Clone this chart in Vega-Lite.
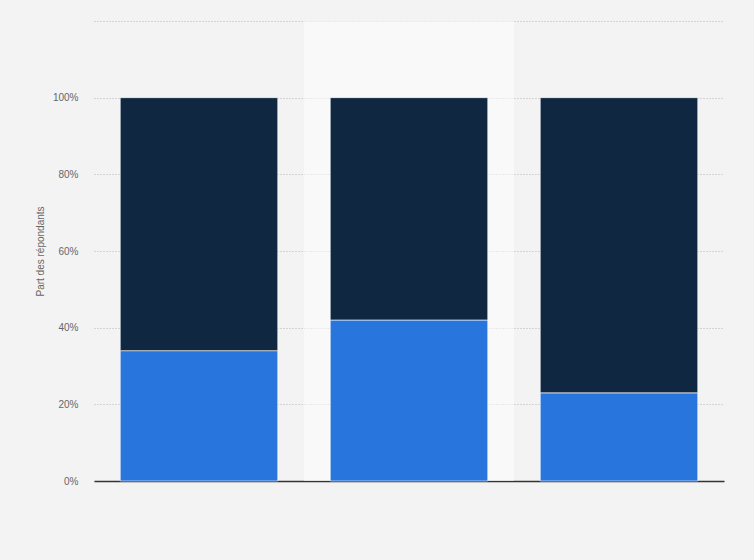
{
  "$schema": "https://vega.github.io/schema/vega-lite/v6.json",
  "width": 630,
  "height": 460,
  "autosize": "none",
  "padding": {"left": 94, "top": 21, "right": 30, "bottom": 79},
  "background": "#f3f3f3",
  "config": {"view": {"stroke": null}, "font": "Liberation Sans"},
  "data": {
    "values": [
      {"groupe": "Groupe 1", "reponse": "Oui", "part": 34},
      {"groupe": "Groupe 1", "reponse": "Non", "part": 66},
      {"groupe": "Groupe 2", "reponse": "Oui", "part": 42},
      {"groupe": "Groupe 2", "reponse": "Non", "part": 58},
      {"groupe": "Groupe 3", "reponse": "Oui", "part": 23},
      {"groupe": "Groupe 3", "reponse": "Non", "part": 77}
    ]
  },
  "encoding": {
    "x": {
      "field": "groupe",
      "type": "nominal",
      "sort": ["Groupe 1", "Groupe 2", "Groupe 3"],
      "scale": {"paddingInner": 0.25, "paddingOuter": 0.125},
      "axis": {"labels": false, "ticks": false, "title": null, "domainColor": "#333333", "domainWidth": 1.5, "grid": false}
    }
  },
  "layer": [
    {
      "transform": [{"filter": "datum.groupe === 'Groupe 2' && datum.reponse === 'Oui'"}],
      "mark": {"type": "bar", "width": {"band": 1.3333}, "color": "#ffffff", "opacity": 0.5},
      "encoding": {
        "y": {
          "datum": 120,
          "type": "quantitative",
          "scale": {"domain": [0, 120], "nice": false},
          "axis": {
            "values": [0, 20, 40, 60, 80, 100, 120],
            "labelExpr": "datum.value > 100 ? '' : datum.value + '%'",
            "title": "Part des répondants",
            "titleFontSize": 10,
            "titleFontWeight": "normal",
            "titleColor": "#666666",
            "titlePadding": 7,
            "labelColor": "#666666",
            "labelFontSize": 10,
            "labelPadding": 16,
            "domain": false,
            "ticks": false,
            "tickSize": 0,
            "grid": true,
            "gridColor": "#b5b5b5",
            "gridDash": [1, 2]
          }
        }
      }
    },
    {
      "mark": {"type": "bar", "stroke": "#ffffff", "strokeOpacity": 0.6, "strokeWidth": 1},
      "encoding": {
        "y": {"field": "part", "type": "quantitative", "stack": true, "title": "Part des répondants"},
        "color": {
          "field": "reponse",
          "type": "nominal",
          "scale": {"domain": ["Oui", "Non"], "range": ["#2876dd", "#0f2740"]},
          "legend": null
        },
        "order": {"field": "reponse", "sort": "descending"}
      }
    }
  ]
}
